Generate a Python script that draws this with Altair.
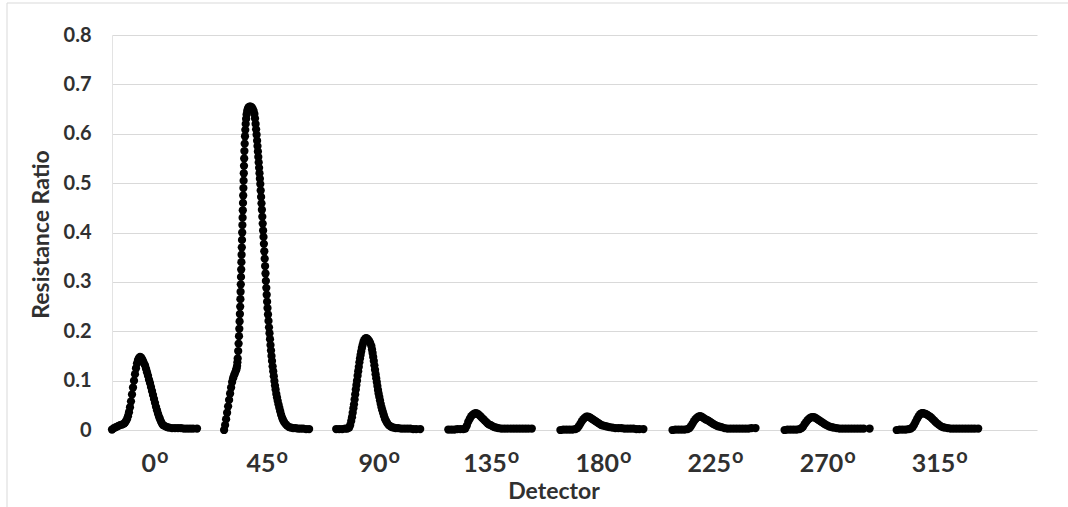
import altair as alt
import pandas as pd

# Detector angles (tick labels, shown with a superscript "o")
angles = ["0", "45", "90", "135", "180", "225", "270", "315"]

# sample offsets within each detector window, and resistance ratio values
t0 = [0, 2, 4, 6, 8, 10, 12, 13, 14, 15, 16, 17, 18, 19, 20, 21, 22, 23, 24, 25, 26, 27, 28, 29, 30,
      31, 32, 33, 34, 35, 36, 37, 38, 39, 40, 41, 42, 43, 44, 45, 46, 47, 48, 49, 50, 51, 53, 55, 57,
      60, 63, 66, 69, 72, 75, 78, 81, 85]
r0 = [0.001, 0.004, 0.006, 0.008, 0.010, 0.011, 0.013, 0.015, 0.018, 0.022, 0.028, 0.036, 0.046,
      0.058, 0.072, 0.086, 0.100, 0.113, 0.125, 0.135, 0.142, 0.146, 0.148, 0.147, 0.144, 0.140,
      0.135, 0.131, 0.124, 0.117, 0.110, 0.102, 0.095, 0.087, 0.079, 0.071, 0.063, 0.055, 0.047,
      0.040, 0.033, 0.027, 0.022, 0.017, 0.013, 0.010, 0.008, 0.006, 0.005, 0.004, 0.004, 0.004,
      0.004, 0.003, 0.003, 0.003, 0.003, 0.003]

t1 = [0, 1, 2, 3, 4, 5, 6, 7, 8, 9, 10, 11, 12, 12.5, 13, 13.3,
      13.6, 14.1, 14.5, 14.9, 15.2, 15.5, 15.8, 16.1, 16.3, 16.5, 16.7, 16.9, 17.1, 17.3, 17.5,
      17.7, 17.9, 18.1, 18.3, 18.5, 18.7, 18.9, 19.1, 19.3, 19.5, 19.7, 19.9, 20.1, 20.3, 20.6,
      20.9, 21.2, 21.6, 22.0, 22.5, 23.1, 23.8, 24.6, 25.5,
      26.5, 27.5, 28.5, 29.5, 30.3, 30.9, 31.5, 32.0, 32.5, 33.0, 33.4, 33.8, 34.2, 34.6, 35.0,
      35.4, 35.8, 36.2, 36.6, 37.0, 37.4, 37.8, 38.2, 38.6, 39.0, 39.4, 39.8, 40.2, 40.6, 41.0,
      41.4, 41.8, 42.2, 42.6, 43.0, 43.4, 43.9, 44.4, 44.9, 45.4, 45.9, 46.4, 46.9, 47.4, 47.9,
      48.5, 49.1, 49.7, 50.3, 50.9, 51.5, 52.2, 52.9, 53.6, 54.4, 55.2, 56.1, 57.0, 58.0, 59.0,
      60.0, 61.5, 63.0, 65.0, 67.0, 69.0, 71.5, 74.0, 76.5, 79.0, 82.0, 85.0]
r1 = [0.000, 0.010, 0.022, 0.035, 0.048, 0.061, 0.074, 0.086, 0.097, 0.105, 0.111, 0.116, 0.121,
      0.125, 0.130, 0.137,
      0.145, 0.160, 0.175, 0.190, 0.205, 0.220, 0.235, 0.250, 0.265, 0.280, 0.295, 0.310, 0.325,
      0.340, 0.355, 0.370, 0.385, 0.400, 0.415, 0.430, 0.445, 0.460, 0.475, 0.490, 0.505, 0.520,
      0.535, 0.550, 0.565, 0.580, 0.595, 0.608, 0.620, 0.630, 0.639, 0.646, 0.651, 0.654, 0.655,
      0.655, 0.654, 0.651, 0.646, 0.640, 0.631, 0.620, 0.609, 0.598, 0.586, 0.575, 0.564, 0.553,
      0.542, 0.531, 0.520, 0.509, 0.498, 0.485, 0.472, 0.459, 0.446, 0.432, 0.418, 0.404, 0.391,
      0.377, 0.362, 0.347, 0.332, 0.317, 0.302, 0.288, 0.274, 0.260, 0.247, 0.234, 0.221, 0.208,
      0.196, 0.184, 0.172, 0.161, 0.150, 0.140, 0.129, 0.119, 0.109, 0.099, 0.090, 0.082, 0.073,
      0.066, 0.059, 0.052, 0.045, 0.038, 0.031, 0.025, 0.020, 0.016, 0.012, 0.009, 0.006, 0.005,
      0.004, 0.004, 0.003, 0.003, 0.003, 0.002, 0.002]

t2 = [0, 3, 6, 9, 11, 13, 14, 15, 15.8, 16.5, 17.2, 17.8, 18.4, 19.0, 19.6, 20.2, 20.8, 21.4, 22.0,
      22.6, 23.2, 23.8, 24.4, 25.0, 25.7, 26.4, 27.2, 28.0, 29.0, 30.0, 31.0, 32.0, 33.0, 34.0,
      35.2, 35.8, 36.4, 37.0, 37.6, 38.2, 38.8, 39.4, 40.0, 40.6, 41.2, 41.8, 42.4, 43.1, 43.8,
      44.5, 45.3, 46.1, 47.0, 47.9, 48.9, 49.9, 51.0, 52.5, 54.0, 55.5, 57.5, 59.5, 62, 65, 68,
      71, 74, 77, 80, 84]
r2 = [0.002, 0.002, 0.002, 0.003, 0.003, 0.005, 0.010, 0.018, 0.026, 0.035, 0.044, 0.052, 0.062,
      0.072, 0.082, 0.091, 0.100, 0.110, 0.119, 0.128, 0.137, 0.145, 0.152, 0.159, 0.166, 0.172,
      0.178, 0.182, 0.185, 0.186, 0.185, 0.183, 0.180, 0.176, 0.170, 0.163, 0.156, 0.148, 0.140,
      0.131, 0.122, 0.113, 0.105, 0.097, 0.089, 0.081, 0.074, 0.067, 0.060, 0.053, 0.046, 0.040,
      0.034, 0.028, 0.022, 0.018, 0.014, 0.010, 0.008, 0.006, 0.005, 0.004, 0.004, 0.003, 0.003,
      0.003, 0.003, 0.002, 0.002, 0.002]

t3 = [0, 3, 6, 9, 12, 15, 17, 18.5, 20, 21.5, 23, 24.5, 26, 27.5, 29, 30.5, 32, 33.5, 35, 36.5,
      38, 39.5, 41, 42.5, 44, 46, 48, 50, 53, 56, 59, 62, 65, 68, 71, 74, 77, 80, 83.5]
r3 = [0.001, 0.001, 0.001, 0.002, 0.002, 0.002, 0.003, 0.009, 0.017, 0.023, 0.028, 0.031, 0.033,
      0.034, 0.033, 0.031, 0.028, 0.025, 0.022, 0.019, 0.016, 0.013, 0.011, 0.010, 0.008, 0.006,
      0.005, 0.004, 0.003, 0.003, 0.003, 0.003, 0.003, 0.003, 0.003, 0.003, 0.003, 0.003, 0.003]

t4 = [0, 3, 6, 9, 12, 15, 17, 18.5, 20, 21.5, 23, 24.5, 26, 27.5, 29, 30.5, 32, 33.5, 35, 36.5,
      38, 39.5, 41, 43, 45, 47, 49, 52, 55, 58, 61, 64, 67, 70, 73, 76, 79, 83]
r4 = [0.000, 0.001, 0.001, 0.001, 0.001, 0.002, 0.004, 0.008, 0.013, 0.018, 0.022, 0.025, 0.027,
      0.027, 0.026, 0.024, 0.022, 0.020, 0.018, 0.016, 0.014, 0.012, 0.010, 0.009, 0.008, 0.007,
      0.006, 0.005, 0.004, 0.004, 0.004, 0.003, 0.003, 0.003, 0.003, 0.002, 0.002, 0.002]

t5 = [0, 3, 6, 9, 12, 15, 17, 18.5, 20, 21.5, 23, 24.5, 26, 27.5, 29, 30.5, 32, 33.5, 35, 36.5,
      38, 39.5, 41, 43, 45, 47, 49, 52, 55, 58, 61, 64, 67, 70, 73, 76, 79, 83]
r5 = [0.000, 0.001, 0.001, 0.001, 0.001, 0.002, 0.004, 0.008, 0.013, 0.018, 0.022, 0.025, 0.027,
      0.028, 0.027, 0.025, 0.023, 0.021, 0.020, 0.018, 0.016, 0.014, 0.012, 0.010, 0.008, 0.007,
      0.006, 0.004, 0.003, 0.003, 0.003, 0.003, 0.003, 0.003, 0.003, 0.003, 0.004, 0.004]

t6 = [0, 3, 6, 9, 12, 15, 17, 18.5, 20, 21.5, 23, 24.5, 26, 27.5, 29, 30.5, 32, 33.5, 35, 36.5,
      38, 39.5, 41, 43, 45, 47, 49, 52, 55, 58, 61, 64, 67, 70, 73, 76, 79, 85]
r6 = [0.000, 0.001, 0.001, 0.001, 0.001, 0.002, 0.004, 0.007, 0.012, 0.016, 0.020, 0.023, 0.025,
      0.026, 0.026, 0.025, 0.023, 0.021, 0.019, 0.017, 0.015, 0.013, 0.011, 0.009, 0.007, 0.006,
      0.005, 0.004, 0.003, 0.003, 0.003, 0.003, 0.003, 0.003, 0.003, 0.003, 0.003, 0.003]

t7 = [0, 3, 6, 9, 12, 14, 16, 17.5, 19, 20.5, 22, 23.5, 25, 26.5, 28, 29.5, 31, 32.5, 34, 35.5,
      37, 38.5, 40, 42, 44, 46, 48, 51, 54, 57, 60, 63, 66, 69, 72, 75, 78, 81.5]
r7 = [0.000, 0.001, 0.001, 0.001, 0.002, 0.003, 0.006, 0.011, 0.017, 0.023, 0.028, 0.032, 0.034,
      0.034, 0.033, 0.032, 0.030, 0.028, 0.026, 0.023, 0.020, 0.017, 0.014, 0.011, 0.008, 0.006,
      0.005, 0.004, 0.003, 0.003, 0.003, 0.003, 0.003, 0.003, 0.003, 0.003, 0.003, 0.003]

y_ticks = [0, 0.1, 0.2, 0.3, 0.4, 0.5, 0.6, 0.7, 0.8]

offsets = [t0, t1, t2, t3, t4, t5, t6, t7]
ratios = [r0, r1, r2, r3, r4, r5, r6, r7]
WINDOW = 112.1   # samples between detector windows
CENTER = 42.5

rows = []
for g, (ts, rs) in enumerate(zip(offsets, ratios)):
    assert len(ts) == len(rs), (g, len(ts), len(rs))
    for t, r in zip(ts, rs):
        rows.append({"sample": g * WINDOW + t, "ratio": r, "detector": g})
df = pd.DataFrame(rows)

# tick-label table: digits right-aligned, superscript "o" left-aligned at the same anchor,
# anchor shifted so that the pair is centred under each detector window
FONT = "Lato"
TXT = "#303030"
LBL_SIZE = 25
SUP_SIZE = 20
DIGIT_W = 0.58 * LBL_SIZE
SUP_W = 0.57 * SUP_SIZE
lab = pd.DataFrame({
    "deg": angles,
    "anchor": [g * WINDOW + CENTER + (len(a) * DIGIT_W - SUP_W) / 2 for g, a in enumerate(angles)],
})

xscale = alt.Scale(domain=[0, 925], nice=False, zero=False)
yscale = alt.Scale(domain=[0, 0.8], nice=False, zero=True)

x_axis = alt.Axis(
    labels=False, grid=False, domain=False, ticks=False, tickSize=0,
    title="Detector", titleFont=FONT, titleFontSize=23, titleFontWeight="bold",
    titleColor=TXT, titleX=441.5, titleY=68, titleAlign="center",
    titleBaseline="alphabetic",
)
y_enc = alt.Y(
    "ratio:Q",
    scale=yscale,
    axis=alt.Axis(
        values=y_ticks,
        labelExpr="datum.value == 0 ? '0' : format(datum.value, '.1f')",
        grid=True, gridColor="#d9d9d9", gridWidth=1,
        domain=True, domainColor="#e3e3e3", ticks=False, tickSize=0,
        labelFont=FONT, labelFontSize=20, labelFontWeight="bold", labelColor=TXT,
        labelPadding=21,
        title="Resistance Ratio", titleFont=FONT, titleFontSize=23, titleFontWeight="bold",
        titleColor=TXT, titleAngle=-90, titleX=-64, titleY=199, titleAlign="center",
        titleBaseline="alphabetic",
    ),
)

border = alt.Chart(pd.DataFrame({"a": [0]})).mark_rect(
    fillOpacity=0, stroke="#d9d9d9", strokeWidth=1
).encode(
    x=alt.value(-105), x2=alt.value(962), y=alt.value(-32), y2=alt.value(478)
)

base = alt.Chart(df)
line = base.mark_line(color="black", strokeWidth=1).encode(
    x=alt.X("sample:Q", scale=xscale, axis=x_axis), y=y_enc,
    detail="detector:N", order="sample:Q"
)
dots = base.mark_circle(color="black", opacity=1, size=68).encode(
    x="sample:Q", y="ratio:Q"
)

digits = alt.Chart(lab).mark_text(
    align="right", baseline="alphabetic", font=FONT, fontSize=LBL_SIZE, fontWeight="bold",
    color=TXT
).encode(
    x=alt.X("anchor:Q", scale=xscale, axis=x_axis), y=alt.value(437), text="deg:N"
)
sup = alt.Chart(lab).mark_text(
    align="left", baseline="alphabetic", font=FONT, fontSize=SUP_SIZE, fontWeight="bold",
    color=TXT, dx=1, text="o"
).encode(
    x=alt.X("anchor:Q", scale=xscale, axis=x_axis), y=alt.value(428)
)

chart = alt.layer(border, line, dots, digits, sup).properties(
    width=925, height=395,
    autosize=alt.AutoSizeParams(type="none"),
    padding={"left": 112, "top": 35, "right": 31, "bottom": 77},
).configure_view(strokeWidth=0)

chart.save("out.html", embed_options={"renderer": "svg", "actions": False})
